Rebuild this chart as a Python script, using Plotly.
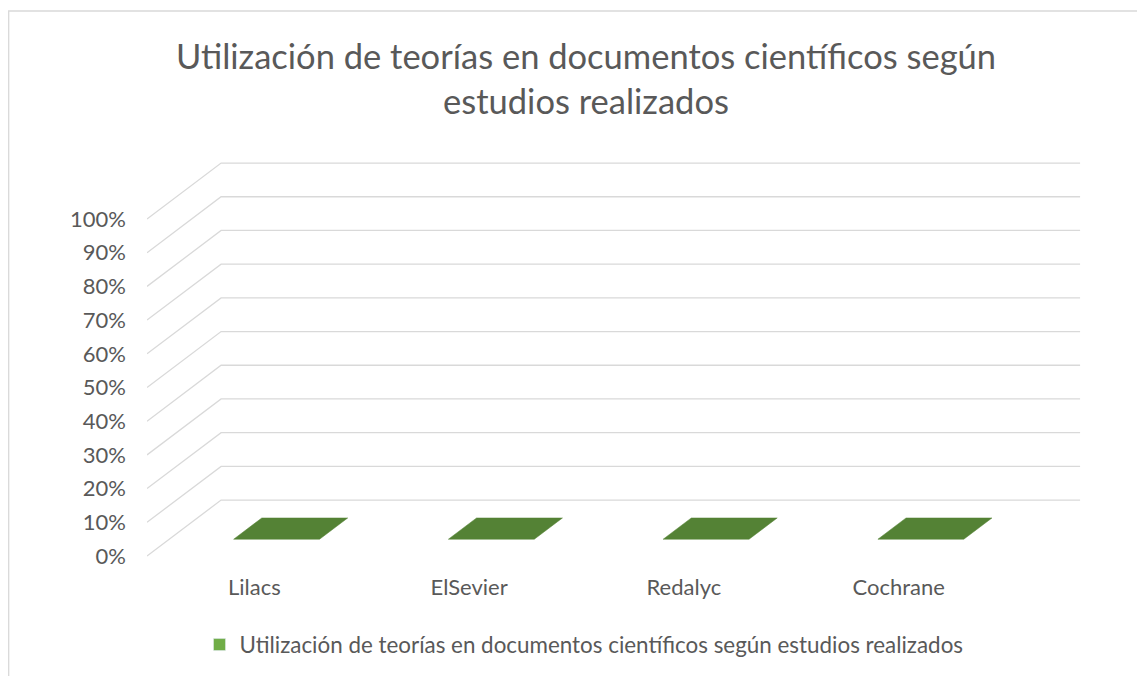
import plotly.graph_objects as go

# ---- data ----
categories = ["Lilacs", "ElSevier", "Redalyc", "Cochrane"]
values = [0.0, 0.0, 0.0, 0.0]
series_name = "Utilización de teorías en documentos científicos según estudios realizados"
title_text = "Utilización de teorías en documentos científicos según<br>estudios realizados"
y_ticks = [0.0, 0.1, 0.2, 0.3, 0.4, 0.5, 0.6, 0.7, 0.8, 0.9, 1.0]

# ---- styling / 3D oblique geometry (axis units) ----
DX = 0.345      # depth offset along category axis
DY = 0.166      # depth offset along value axis
D0, D1 = 0.30, 0.68   # bar depth span (fraction of depth)
BW = 0.40             # bar width (category units)
GRID = "#d9d9d9"
TXT = "#595959"
TOP = "#548235"
FRONT = "#70AD47"
SIDE = "#4e7a31"
FONT = "Lato"
FS = 22

fig = go.Figure()

n = len(categories)
x_left, x_right = -0.5, n - 0.5

# gridlines (oblique left wall edge + back wall)
gx, gy = [], []
for t in y_ticks:
    gx += [x_left, x_left + DX, x_right + DX, None]
    gy += [t, t + DY, t + DY, None]
fig.add_trace(go.Scatter(x=gx, y=gy, mode="lines", line=dict(color=GRID, width=1.3),
                         hoverinfo="skip", showlegend=False))

# bars
for i, v in enumerate(values):
    xl, xr = i - BW / 2, i + BW / 2
    if v > 0:
        fig.add_trace(go.Scatter(
            x=[xl + D0 * DX, xr + D0 * DX, xr + D0 * DX, xl + D0 * DX, xl + D0 * DX],
            y=[D0 * DY, D0 * DY, v + D0 * DY, v + D0 * DY, D0 * DY],
            fill="toself", fillcolor=FRONT, mode="lines", line=dict(width=0),
            hoverinfo="skip", showlegend=False))
        fig.add_trace(go.Scatter(
            x=[xr + D0 * DX, xr + D1 * DX, xr + D1 * DX, xr + D0 * DX, xr + D0 * DX],
            y=[D0 * DY, D1 * DY, v + D1 * DY, v + D0 * DY, D0 * DY],
            fill="toself", fillcolor=SIDE, mode="lines", line=dict(width=0),
            hoverinfo="skip", showlegend=False))
    fig.add_trace(go.Scatter(
        x=[xl + D0 * DX, xr + D0 * DX, xr + D1 * DX, xl + D1 * DX, xl + D0 * DX],
        y=[v + D0 * DY, v + D0 * DY, v + D1 * DY, v + D1 * DY, v + D0 * DY],
        fill="toself", fillcolor=TOP, mode="lines", line=dict(width=0.5, color=TOP),
        hoverinfo="skip", showlegend=False))

# legend entry
fig.add_trace(go.Bar(x=[None], y=[None], name=series_name, marker_color=FRONT, showlegend=True))

OFF = 8          # page body margin
W, H = 1145, 676
ml, mr, mt, mb = 147 - OFF, 55 + OFF, 150 - OFF, 106 + OFF
pw, ph = W - ml - mr, H - mt - mb
ppx = 214.75   # px per category
ppy = 337.0    # px per 100%
y0px = 556 - OFF  # figure px of 0%

fig.update_layout(
    width=W, height=H, autosize=False,
    margin=dict(l=ml, r=mr, t=mt, b=mb, pad=0),
    paper_bgcolor="white", plot_bgcolor="white",
    font=dict(family=FONT, color=TXT, size=FS),
    title=dict(text=title_text, x=(586 - OFF) / W, xref="container", xanchor="center",
               y=1 - (69 - OFF) / H, yref="container", yanchor="top",
               font=dict(family=FONT, size=34.5, color=TXT)),
    xaxis=dict(range=[x_left, x_left + pw / ppx], tickvals=list(range(n)), ticktext=categories,
               showgrid=False, zeroline=False, showline=False, ticks="",
               tickfont=dict(size=FS, color=TXT), ticklabelstandoff=2, fixedrange=True),
    yaxis=dict(range=[-(mt + ph - y0px) / ppy, (y0px - mt) / ppy], tickvals=y_ticks,
               tickformat=".0%", showgrid=False, zeroline=False, showline=False, ticks="",
               tickfont=dict(size=FS, color=TXT), ticklabelstandoff=20, fixedrange=True),
    legend=dict(orientation="h", x=(589 - OFF - 5) / W, xref="container", xanchor="center",
                y=(H - (645 - OFF)) / H, yref="container", yanchor="middle",
                font=dict(size=22.4, color=TXT), itemwidth=30),
    showlegend=True,
    shapes=[dict(type="rect", xref="paper", yref="paper",
                 x0=(0.7 - ml) / pw, x1=(W + 20 - ml) / pw,
                 y0=(mt + ph - (11 - OFF)) / ph, y1=(mt + ph - H - 20) / ph,
                 line=dict(color=GRID, width=1.3), fillcolor="rgba(0,0,0,0)", layer="below")],
)

fig.write_html("out.html")
